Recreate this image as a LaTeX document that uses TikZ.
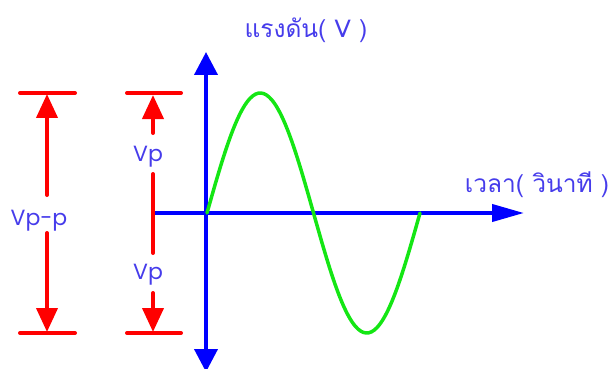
\documentclass[tikz,border=0pt]{standalone}
\usepackage{fontspec}
\usetikzlibrary{arrows.meta}
\newfontfamily\thaifont[Script=Thai]{Loma}
\newfontfamily\latinfont{Poppins}
\definecolor{txtblue}{RGB}{70,60,235}
\definecolor{axblue}{RGB}{0,0,255}
\definecolor{dimred}{RGB}{255,0,0}
\definecolor{wavegreen}{RGB}{20,230,20}
\tikzset{
  axis/.style={draw=axblue, line width=4pt},
  vtip/.style={-{Triangle[length=23pt,width=23pt]}},
  htip/.style={-{Triangle[length=32pt,width=17pt]}},
  dim/.style={draw=dimred, line width=4pt, line cap=round},
  dtip/.style={-{Triangle[length=24pt,width=21pt]}},
  lbl/.style={text=txtblue, font=\latinfont\fontsize{22}{24}\selectfont, inner sep=0pt},
  thlbl/.style={text=txtblue, font=\thaifont\fontsize{24.5}{26}\selectfont, inner sep=0pt},
}
\begin{document}
\begin{tikzpicture}[x=1pt,y=-1pt]
\useasboundingbox (0,0) rectangle (611,369);
% axes
\coordinate (o) at (206,213);
\coordinate (ytop) at (206,52);
\coordinate (ybot) at (206,372);
\coordinate (xl) at (155,213);
\coordinate (xr) at (524,213);
\draw[axis,vtip] (o) -- (ytop);
\draw[axis,vtip] (o) -- (ybot);
\draw[axis,htip] (xl) -- (xr);
% wave
\draw[wavegreen, line width=3.5pt, line cap=round, line join=round]
  plot[domain=0:213, samples=80, smooth] ({207+\x},{213-120*sin(\x/213*360)});
% labels
\node[thlbl] (vlab) at (306,30) {แรงดัน( V )};
\node[thlbl] (tlab) at (537,185) {เวลา( วินาที )};
% left dimension Vp-p
\coordinate (b1l) at (20,93); \coordinate (b1r) at (75,93);
\coordinate (b2l) at (20,333); \coordinate (b2r) at (75,333);
\draw[dim] (b1l) -- (b1r);
\draw[dim] (b2l) -- (b2r);
\node[lbl] (vpp) at (39,221) {Vp-p};
\coordinate (a1s) at (47,195); \coordinate (a1t) at (47,94);
\coordinate (a2s) at (47,233); \coordinate (a2t) at (47,332);
\draw[dim,dtip] (a1s) -- (a1t);
\draw[dim,dtip] (a2s) -- (a2t);
% right dimension Vp
\coordinate (c1l) at (127,93); \coordinate (c1r) at (181,93);
\coordinate (c2l) at (127,333); \coordinate (c2r) at (181,333);
\draw[dim] (c1l) -- (c1r);
\draw[dim] (c2l) -- (c2r);
\node[lbl] (vp1) at (148,157) {Vp};
\node[lbl] (vp2) at (148,275) {Vp};
\coordinate (d1s) at (153,133); \coordinate (d1t) at (153,95);
\coordinate (d2s) at (153,293); \coordinate (d2t) at (153,332);
\draw[dim,dtip] (d1s) -- (d1t);
\draw[dim,dtip] (d2s) -- (d2t);
\coordinate (m1) at (153,174); \coordinate (m2) at (153,253);
\draw[dim] (m1) -- (m2);
\end{tikzpicture}
\end{document}
